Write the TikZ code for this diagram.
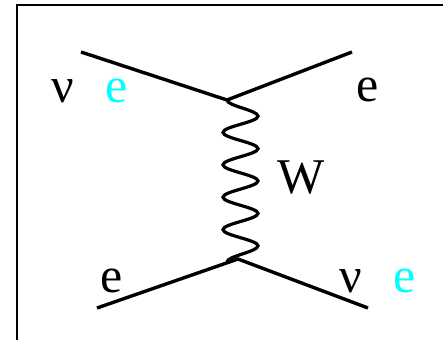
\documentclass[tikz,border=0pt]{standalone}
\usepackage{fontspec}
\setmainfont{Liberation Serif}
\newfontfamily\lblfont{Liberation Serif}
\definecolor{nucyan}{RGB}{0,255,255}
\begin{document}
\begin{tikzpicture}[x=1pt, y=-1pt,
        fermion/.style = {line width=3.4pt},
        wboson/.style  = {line width=3.2pt},
        lbl/.style     = {anchor=base, inner sep=0pt, font=\lblfont\fontsize{50}{54}\selectfont},
    ]
        \useasboundingbox (0,0) rectangle (443,340);
        \draw[line width=2.4pt] (443,5) -- (17,5) -- (17,340);

        % vertices and leg ends
        \coordinate (vt) at (227,100);
        \coordinate (vb) at (238,259);
        \coordinate (wb) at (227,262);
        \coordinate (inl)  at ( 81, 52);
        \coordinate (outr) at (352, 52);
        \coordinate (inb)  at ( 97,308);
        \coordinate (outb) at (368,308);

        % fermion lines
        \draw[fermion] (inl) -- (vt) -- (outr);
        \draw[fermion] (inb) -- (vb) -- (outb);

        % W propagator
        \draw[wboson] (vt) .. controls +(0,5.9) and +(0,-5.9) .. ++(31,16.2)
            \foreach \k in {1,...,4}{
                .. controls +(0,5.9) and +(0,-5.9) .. ++(-35,16.2)
                .. controls +(0,5.9) and +(0,-5.9) .. ++(35,16.2)}
            .. controls +(0,5.9) and +(0,-5.9) .. (wb);

        % labels
        \node[lbl]              (nu1) at ( 63,102) {ν};
        \node[lbl, text=nucyan] (e1)  at (117,102) {e};
        \node[lbl]              (e2)  at (368,101) {e};
        \node[lbl]              (W)   at (301,193) {W};
        \node[lbl]              (e3)  at (112,292) {e};
        \node[lbl]              (nu2) at (351,292) {ν};
        \node[lbl, text=nucyan] (e4)  at (405,292) {e};
\end{tikzpicture}
\end{document}
